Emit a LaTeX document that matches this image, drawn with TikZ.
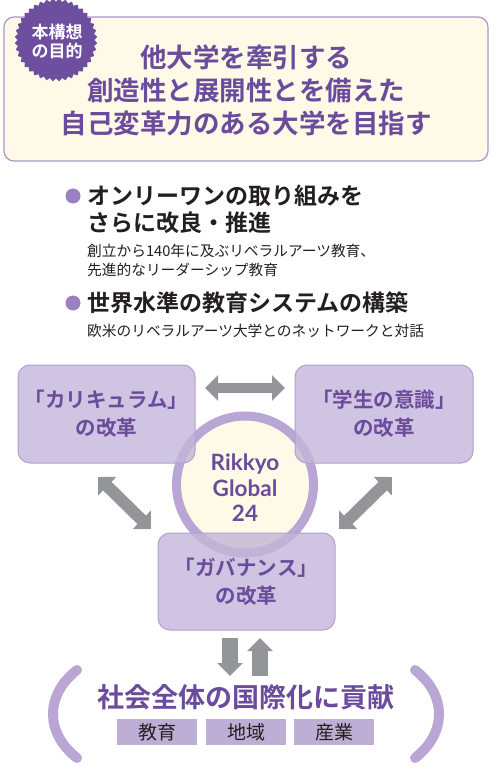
\documentclass[tikz,border=0pt]{standalone}
\usepackage{fontspec}
\setmainfont{Noto Sans CJK JP}[BoldFont={* Bold}]
\newfontfamily\lato{Lato}
\usetikzlibrary{shapes.geometric,arrows.meta}
\definecolor{ttl}{HTML}{6A4B9C}
\definecolor{badge}{HTML}{6D4E9F}
\definecolor{cream}{HTML}{FEFAE7}
\definecolor{frame}{HTML}{AD95CB}
\definecolor{boxf}{HTML}{C3B5D9}
\definecolor{boxd}{HTML}{B3A0D0}
\definecolor{ring}{HTML}{B9A6D5}
\definecolor{arr}{HTML}{939598}
\definecolor{dot}{HTML}{9C80C1}
\definecolor{txt}{HTML}{231F20}
\definecolor{tag}{HTML}{BCAED5}
\tikzset{
  rbox/.style={draw=boxd, line width=1pt, fill=boxf, fill opacity=0.8, text opacity=1,
    rounded corners=12pt, text=ttl, align=center, inner sep=0pt,
    font=\fontsize{20.5}{28}\selectfont\bfseries},
  tagbox/.style={fill=tag, minimum width=80pt, minimum height=26pt, inner sep=0pt,
    text=txt, font=\fontsize{19}{19}\selectfont},
  garrow/.style={draw=arr, line width=#1, {Triangle[width=25pt,length=13pt]}-{Triangle[width=25pt,length=13pt]}},
  sarrow/.style={draw=arr, line width=16pt, -{Triangle[width=25pt,length=13pt]}},
  paren/.style={draw=ring, line width=10pt, line cap=round},
  head/.style={anchor=west, align=left, inner sep=0pt, text=txt,
    font=\fontsize{23}{27}\selectfont\bfseries},
  sub/.style={anchor=west, align=left, inner sep=0pt, text=txt,
    font=\fontsize{14.7}{19}\selectfont},
}
\begin{document}
\begin{tikzpicture}[x=1pt,y=-1pt]
\useasboundingbox (0,0) rectangle (493,767);
% top frame
\node[draw=frame, line width=1.2pt, fill=cream, rounded corners=10pt,
  minimum width=484pt, minimum height=144pt, inner sep=0pt] (goal) at (246,89) {};
\node[text=ttl, align=center, font=\fontsize{26.5}{33}\selectfont\bfseries] (goaltxt) at (246,90)
  {他大学を牽引する\\創造性と展開性とを備えた\\自己変革力のある大学を目指す};
\node[star, star points=40, star point ratio=0.93, fill=badge, minimum size=77pt, inner sep=0pt] (badge) at (56,40) {};
\node[text=white, align=center, font=\fontsize{17}{19}\selectfont\bfseries] (badgetxt) at (57,41) {本構想\\の目的};
% bullets
\fill[dot] (73,196) circle (7.5pt);
\node[head] (b1) at (87,209.5) {オンリーワンの取り組みを\\さらに改良・推進};
\node[sub] (s1) at (87,260.5) {創立から140年に及ぶリベラルアーツ教育、\\先進的なリーダーシップ教育};
\fill[dot] (73,303) circle (7.5pt);
\node[head] (b2) at (87,303) {世界水準の教育システムの構築};
\node[sub] (s2) at (87,331) {欧米のリベラルアーツ大学とのネットワークと対話};
% center circle
\node[circle, draw=ring, line width=9pt, fill=cream, minimum size=137pt, inner sep=0pt] (core) at (245,484.5) {};
\node[text=ttl, align=center, font=\fontsize{22.5}{25.5}\selectfont\lato\bfseries] (coretxt) at (245,488) {Rikkyo\\Global\\24};
% boxes
\node[rbox, minimum width=177pt, minimum height=98pt] (cur) at (106.5,414) {「カリキュラム」\\の改革};
\node[rbox, minimum width=178pt, minimum height=98pt] (stu) at (384,414) {「学生の意識」\\の改革};
\node[rbox, minimum width=177pt, minimum height=97pt] (gov) at (246.5,581.5) {「ガバナンス」\\の改革};
% arrows
\coordinate (h1) at (205,388); \coordinate (h2) at (285,388);
\draw[garrow=10pt] (h1) -- (h2);
\coordinate (l1) at (98,477); \coordinate (l2) at (151,529);
\draw[garrow=12pt] (l1) -- (l2);
\coordinate (r1) at (392,477); \coordinate (r2) at (339,529);
\draw[garrow=12pt] (r1) -- (r2);
\coordinate (d1) at (230,638); \coordinate (d2) at (230,676);
\draw[sarrow] (d1) -- (d2);
\coordinate (u1) at (260,676); \coordinate (u2) at (260,638);
\draw[sarrow] (u1) -- (u2);
% bottom
\coordinate (pl1) at (77,670); \coordinate (pl2) at (77,758);
\draw[paren] (pl1) .. controls (45,695) and (45,733) .. (pl2);
\coordinate (pr1) at (415,670); \coordinate (pr2) at (415,758);
\draw[paren] (pr1) .. controls (447,695) and (447,733) .. (pr2);
\node[text=ttl, font=\fontsize{27}{27}\selectfont\bfseries] (soc) at (246,697) {社会全体の国際化に貢献};
\node[tagbox] (t1) at (157,732) {教育};
\node[tagbox] (t2) at (246,732) {地域};
\node[tagbox] (t3) at (334,732) {産業};
\end{tikzpicture}
\end{document}
